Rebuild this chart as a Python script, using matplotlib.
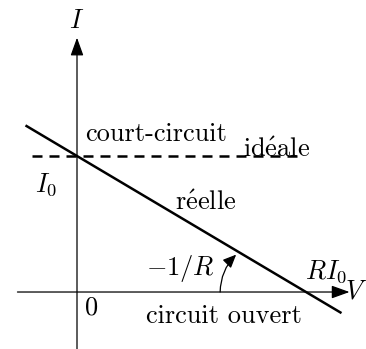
import matplotlib
matplotlib.use("Agg")
import matplotlib.pyplot as plt

plt.rcParams['font.family'] = ['cmr10', 'DejaVu Serif']
plt.rcParams['mathtext.fontset'] = 'cm'
plt.rcParams['axes.unicode_minus'] = False

# source model: I = I0 - V/R, with I0 = 1 and R = 2
I0 = 1.0
RI0 = 2.0

# axes extents
v_axis = [-0.52, 2.38]
i_axis = [-0.42, 1.87]

# real source characteristic
v_reelle = [-0.45, 2.31]
i_reelle = [1.225, -0.155]

# ideal current source
v_ideale = [-0.39, 1.97]
i_ideale = [I0, I0]

# slope arc: starts on the V axis, ends just under the line
arc_start = [1.25, 0.0]
arc_end = [1.39, 0.275]

fig = plt.figure(figsize=(3.66, 3.49), dpi=100)
ax = fig.add_axes([0, 0, 1, 1])
ax.set_xlim(-0.6725, 2.524)
ax.set_ylim(-0.419, 2.147)
ax.axis('off')

axis_arrow = dict(arrowstyle='-|>,head_length=0.5,head_width=0.18',
                  mutation_scale=22, lw=0.9, color='black',
                  shrinkA=0, shrinkB=0)
ax.annotate('', xy=(v_axis[1], 0), xytext=(v_axis[0], 0), arrowprops=axis_arrow)
ax.annotate('', xy=(0, i_axis[1]), xytext=(0, i_axis[0]), arrowprops=axis_arrow)

ax.plot(v_reelle, i_reelle, color='black', lw=1.8, solid_capstyle='butt')
ax.plot(v_ideale, i_ideale, color='black', lw=1.8, dashes=(4.0, 2.8))

ax.annotate('', xy=arc_end, xytext=arc_start,
            arrowprops=dict(arrowstyle='-|>,head_length=0.5,head_width=0.22',
                            mutation_scale=16, lw=0.9, color='black',
                            shrinkA=0, shrinkB=0,
                            connectionstyle='arc3,rad=-0.2'))

fs = 19
ax.text(0, 1.993, '$I$', fontsize=fs, ha='center', va='center')
ax.text(2.44, 0.0, '$V$', fontsize=fs, ha='center', va='center')
ax.text(0.07, 1.11, 'court-circuit', fontsize=fs, ha='left', va='baseline')
ax.text(1.45, 0.993, r"id$\mathrm{\'e}$ale", fontsize=fs, ha='left', va='baseline')
ax.text(-0.27, 0.787, '$I_0$', fontsize=fs, ha='center', va='center')
ax.text(1.127, 0.654, r"r$\mathrm{\'e}$elle", fontsize=fs, ha='center', va='center')
ax.text(0.90, 0.176, '$-1/R$', fontsize=fs, ha='center', va='center')
ax.text(2.175, 0.147, '$RI_0$', fontsize=fs, ha='center', va='center')
ax.text(0.122, -0.118, '$0$', fontsize=fs, ha='center', va='center')
ax.text(1.284, -0.176, 'circuit ouvert', fontsize=fs, ha='center', va='center')

fig.savefig('out.png', dpi=100)
